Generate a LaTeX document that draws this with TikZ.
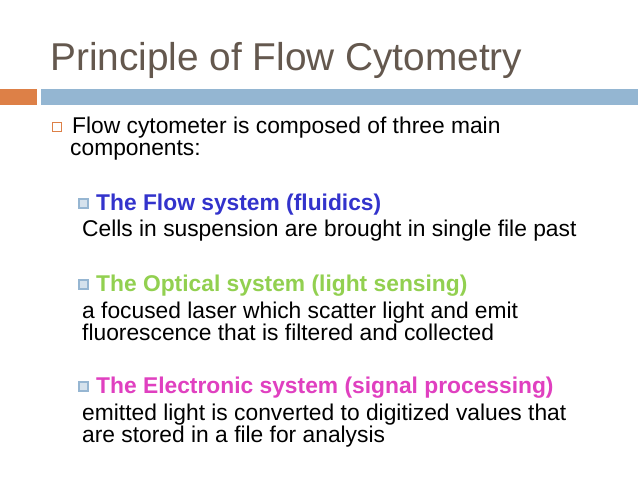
\documentclass[tikz,border=0pt]{standalone}
\usepackage{fontspec}
\setmainfont{Liberation Sans}
\definecolor{titlec}{RGB}{100,88,78}
\definecolor{orangec}{RGB}{221,128,71}
\definecolor{bluebar}{RGB}{148,182,210}
\definecolor{flowc}{RGB}{51,51,204}
\definecolor{optc}{RGB}{146,208,80}
\definecolor{elecc}{RGB}{224,64,192}
\definecolor{subbul}{RGB}{150,182,210}
\tikzset{x=1pt,y=-1pt,
 txt/.style={anchor=base west,inner sep=0pt,font=\fontsize{22.8}{24}\selectfont},
 head/.style={txt,font=\fontsize{22.8}{24}\selectfont\bfseries},
 bul/.style={draw=orangec,line width=0.8pt,fill=white,minimum size=9pt,inner sep=0pt},
 sbul/.style={draw=subbul,line width=2.5pt,fill=subbul!40,minimum size=9pt,inner sep=0pt}}
\begin{document}
\begin{tikzpicture}
\useasboundingbox (0,0) rectangle (638,479);
\fill[white] (0,0) rectangle (638,479);
\node[anchor=base west,inner sep=0pt,text=titlec,font=\fontsize{38.8}{42}\selectfont] (title) at (50,70) {Principle of Flow Cytometry};
\fill[orangec] (0,89) rectangle (37,105);
\fill[bluebar] (41,89) rectangle (638,105);
\node[bul] (b1) at (57,127) {};
\node[txt] (l1) at (72,133) {Flow cytometer is composed of three main};
\node[txt] (l2) at (70,155) {components:};
\node[sbul] (s1) at (83.5,203.5) {};
\node[head,text=flowc] (h1) at (96,210) {The Flow system (fluidics)};
\node[txt] (t1) at (82,236) {Cells in suspension are brought in single file past};
\node[sbul] (s2) at (83.5,284.5) {};
\node[head,text=optc] (h2) at (96,291) {The Optical system (light sensing)};
\node[txt] (t2) at (82,318) {a focused laser which scatter light and emit};
\node[txt] (t3) at (82,340) {fluorescence that is filtered and collected};
\node[sbul] (s3) at (83.5,386.5) {};
\node[head,text=elecc] (h3) at (96,393) {The Electronic system (signal processing)};
\node[txt] (t4) at (82,420) {emitted light is converted to digitized values that};
\node[txt] (t5) at (82,442) {are stored in a file for analysis};
\end{tikzpicture}
\end{document}
